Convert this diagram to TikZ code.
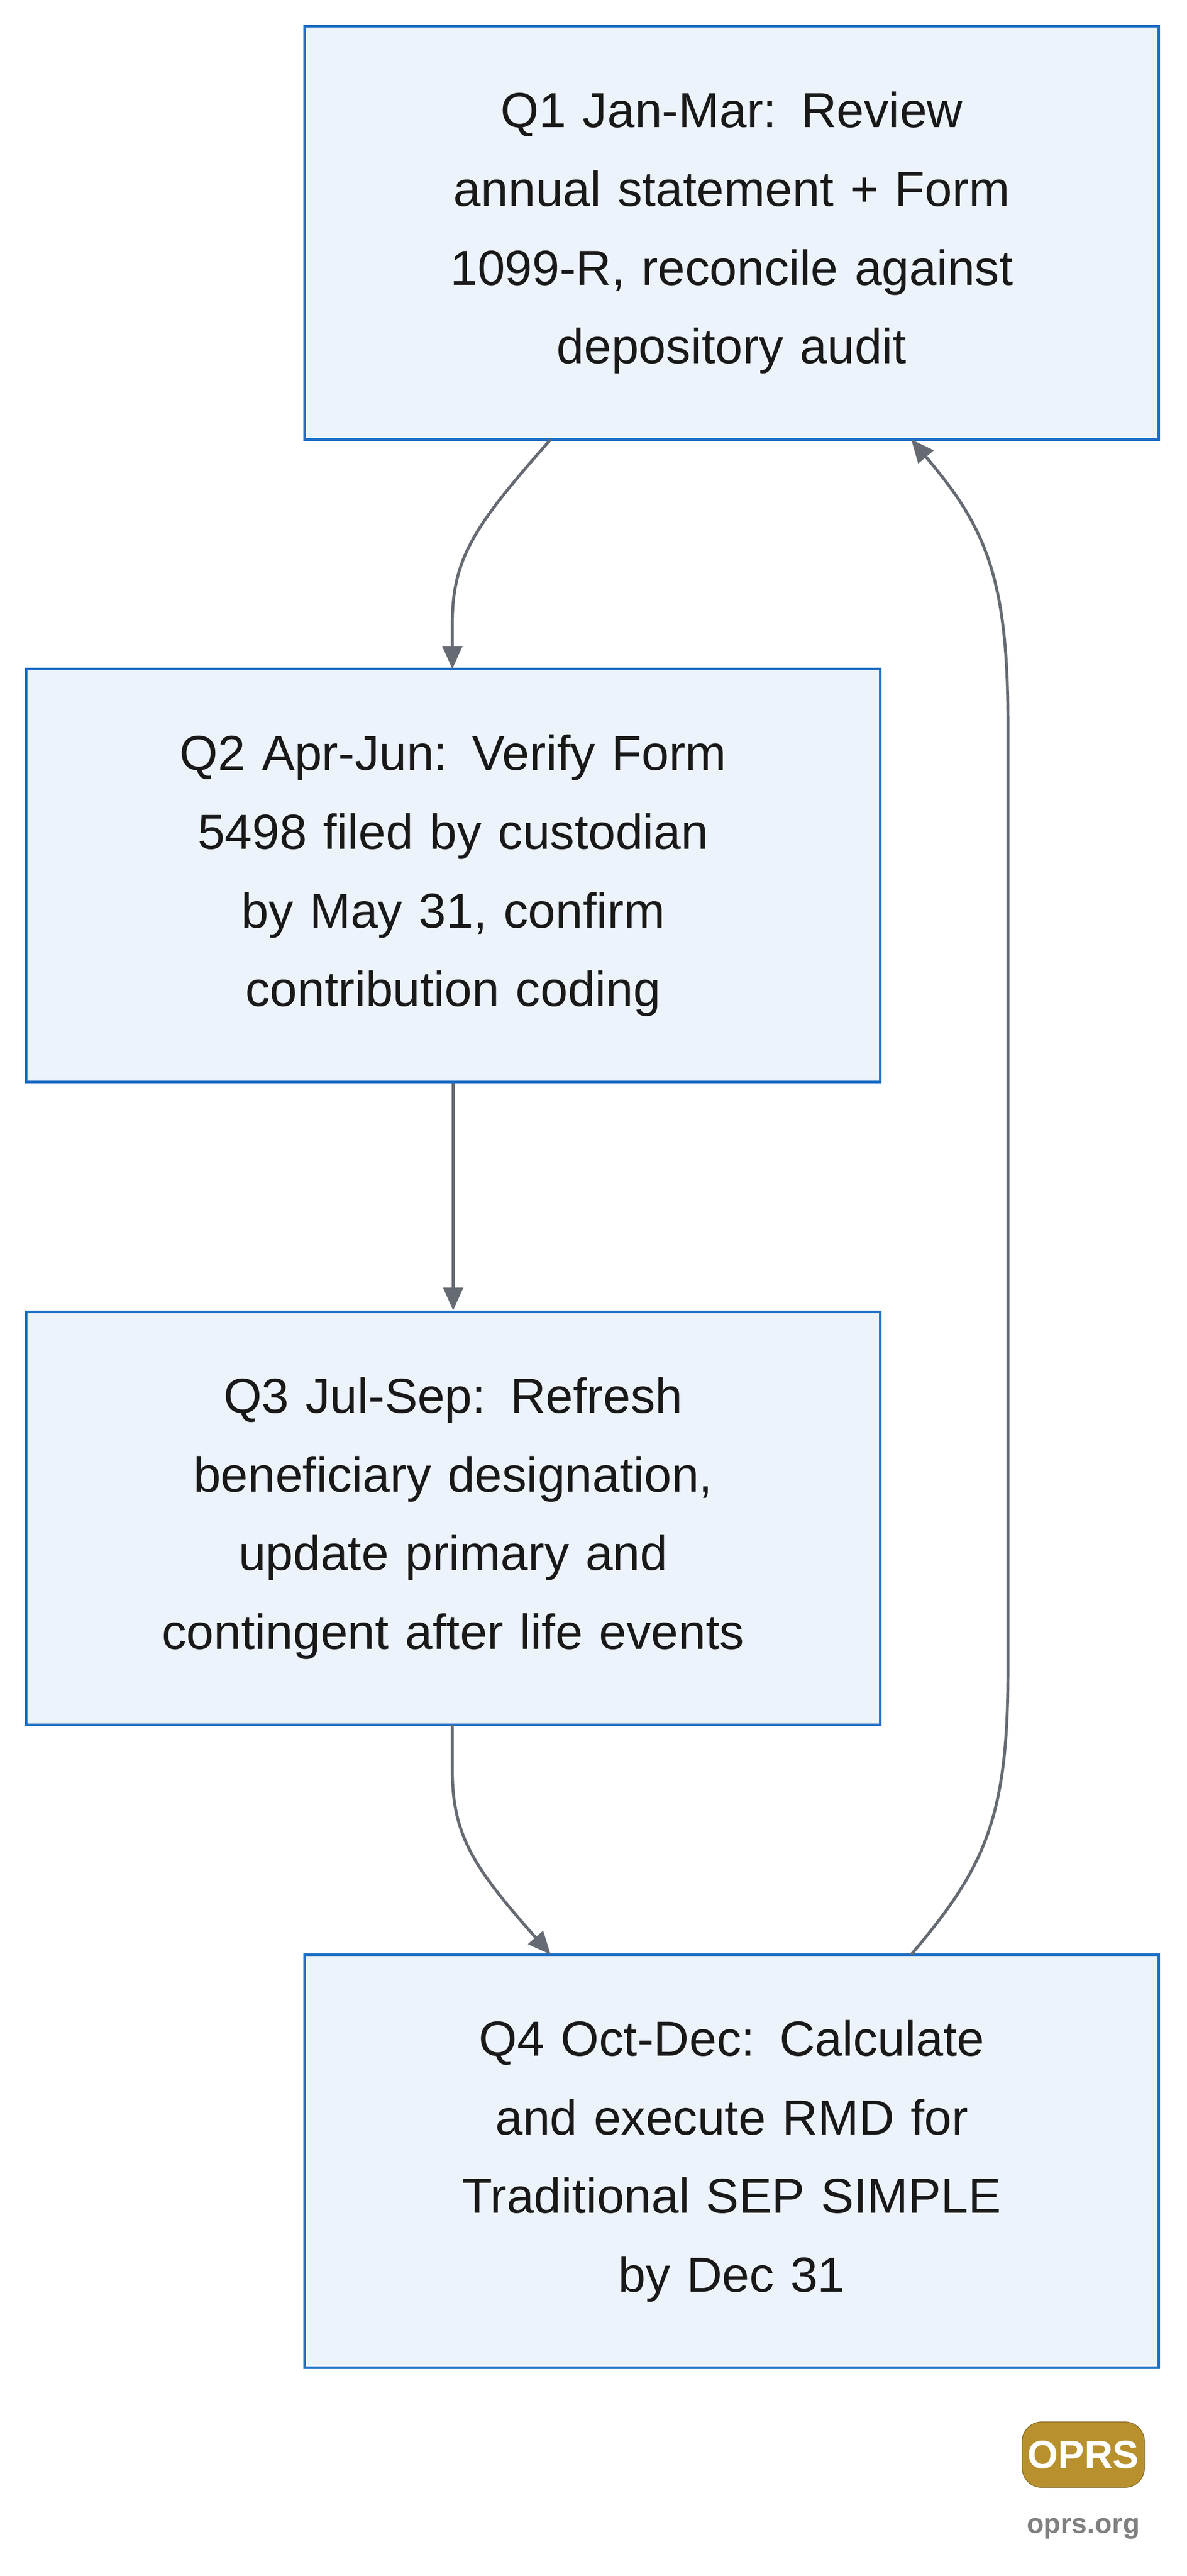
\documentclass[tikz,border=0pt]{standalone}
\usepackage{fontspec}
\setmainfont{Liberation Sans}
\usetikzlibrary{arrows.meta}
\definecolor{bfill}{HTML}{EDF3FB}
\definecolor{bdraw}{HTML}{1F6FC5}
\definecolor{arr}{HTML}{666B73}
\definecolor{gold}{HTML}{B8912E}
\begin{document}
\begin{tikzpicture}[x=1pt,y=-1pt,
 box/.style={draw=bdraw,fill=bfill,line width=1.6pt,minimum width=521pt,minimum height=252pt,align=center,font=\fontsize{30}{48}\selectfont,text=black!90,text width=450pt},
 con/.style={draw=arr,line width=1.8pt,-{Triangle[length=14pt,width=12pt]}}]
\useasboundingbox[fill=white] (0,0) rectangle (724,1571);
\node[box] (q1) at (446.5,142) {Q1 Jan-Mar: Review\\annual statement + Form\\1099-R, reconcile against\\depository audit};
\node[box] (q2) at (276.5,534) {Q2 Apr-Jun: Verify Form\\5498 filed by custodian\\by May 31, confirm\\contribution coding};
\node[box] (q3) at (276.5,926) {Q3 Jul-Sep: Refresh\\beneficiary designation,\\update primary and\\contingent after life events};
\node[box] (q4) at (446.5,1318) {Q4 Oct-Dec: Calculate\\and execute RMD for\\Traditional SEP SIMPLE\\by Dec 31};
\coordinate (a1) at (336,268); \coordinate (b1) at (276,408);
\draw[con] (a1) .. controls (290,320) and (276,340) .. (276,380) -- (b1);
\draw[con] (q2.south) -- (q3.north);
\coordinate (a3) at (276,1052); \coordinate (b3) at (336,1192);
\draw[con] (a3) -- (276,1080) .. controls (276,1120) and (290,1140) .. (b3);
\coordinate (a4) at (556,1192); \coordinate (b4) at (556,268);
\draw[con] (a4) .. controls (600,1140) and (615,1110) .. (615,1020) -- (615,440) .. controls (615,350) and (600,320) .. (b4);
\node[draw=gold!70!black,fill=gold,rounded corners=12pt,minimum width=70pt,minimum height=40pt,font=\bfseries\fontsize{24}{24}\selectfont,text=white] (logo) at (661,1497) {OPRS};
\node[font=\bfseries\fontsize{17}{17}\selectfont,text=gray] (url) at (661,1542) {oprs.org};
\end{tikzpicture}
\end{document}
